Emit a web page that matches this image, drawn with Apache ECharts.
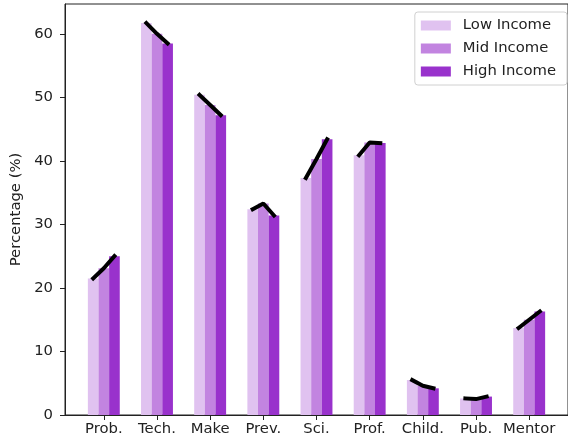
<!DOCTYPE html>
<html>
<head>
<meta charset="utf-8">
<script src="https://cdn.jsdelivr.net/npm/echarts@6/dist/echarts.min.js"></script>
<style>html,body{margin:0;padding:0;background:#fff;}#c{width:568px;height:444px;}</style>
</head>
<body>
<div id="c"></div>
<script>
const categories = ['Prob.', 'Tech.', 'Make', 'Prev.', 'Sci.', 'Prof.', 'Child.', 'Pub.', 'Mentor'];
const lowIncome  = [21.5, 61.7, 50.4, 32.4, 37.3, 40.9, 5.5, 2.6, 13.7];
const midIncome  = [23.1, 60.0, 48.8, 33.3, 40.3, 42.9, 4.6, 2.5, 15.0];
const highIncome = [25.0, 58.5, 47.2, 31.4, 43.4, 42.8, 4.2, 2.9, 16.3];
const yTicks = [0, 10, 20, 30, 40, 50, 60];
const seriesNames = ['Low Income', 'Mid Income', 'High Income'];
const seriesColors = ['#e0c2f0', '#c284e0', '#9932cc'];

const FONT = 'DejaVu Sans';
const FS = 14.8;
const groups = [lowIncome, midIncome, highIncome];
const offsets = [-0.2, 0, 0.2];
const barW = 0.2;

function barRender(params, api) {
  const x = api.value(0), v = api.value(1);
  const p0 = api.coord([x - barW / 2, v]);
  const p1 = api.coord([x + barW / 2, 0]);
  return {
    type: 'rect',
    shape: { x: p0[0], y: p0[1], width: p1[0] - p0[0], height: p1[1] - p0[1] },
    style: { fill: api.visual('color') }
  };
}

const series = [];
groups.forEach((vals, k) => {
  series.push({
    name: seriesNames[k],
    type: 'custom',
    renderItem: barRender,
    itemStyle: { color: seriesColors[k] },
    encode: { x: 0, y: 1 },
    data: vals.map((v, i) => [i + offsets[k], v]),
    z: 2
  });
});
categories.forEach((c, i) => {
  series.push({
    name: 'trend-' + c,
    type: 'line',
    symbol: 'none',
    silent: true,
    lineStyle: { color: '#000', width: 4, cap: 'square' },
    data: groups.map((vals, k) => [i + offsets[k], vals[i]]),
    z: 5
  });
});

const chart = echarts.init(document.getElementById('c'), null, { renderer: 'canvas' });
chart.setOption({
  animation: false,
  backgroundColor: '#fff',
  textStyle: { fontFamily: FONT },
  grid: { left: 65, top: 4, right: -2, bottom: 29, show: true, borderColor: '#222', borderWidth: 1, containLabel: false },
  legend: {
    data: seriesNames,
    orient: 'vertical',
    right: 1,
    top: 12,
    icon: 'rect',
    itemWidth: 30,
    itemHeight: 10,
    itemGap: 8,
    padding: [6, 11, 6, 6],
    borderColor: '#d0d0d0',
    borderWidth: 1,
    borderRadius: 3,
    backgroundColor: 'rgba(255,255,255,0.8)',
    textStyle: { fontFamily: FONT, fontSize: FS, color: '#222', padding: [0, 0, 0, 7] }
  },
  xAxis: {
    type: 'value',
    min: -0.73,
    max: 8.73,
    splitLine: { show: false },
    axisLine: { show: true, onZero: false, lineStyle: { color: '#222', width: 1 } },
    axisTick: { show: true, customValues: categories.map((c, i) => i), length: 5, lineStyle: { color: '#222' } },
    axisLabel: {
      customValues: categories.map((c, i) => i),
      formatter: v => categories[Math.round(v)],
      fontFamily: FONT, fontSize: FS, color: '#222', margin: 7
    }
  },
  yAxis: {
    type: 'value',
    min: 0,
    max: 64.7,
    name: 'Percentage (%)',
    nameLocation: 'middle',
    nameGap: 39,
    nameTextStyle: { fontFamily: FONT, fontSize: FS, color: '#222' },
    splitLine: { show: false },
    axisLine: { show: true, onZero: false, lineStyle: { color: '#222', width: 1 } },
    axisTick: { show: true, customValues: yTicks, length: 5, lineStyle: { color: '#222' } },
    axisLabel: { customValues: yTicks, fontFamily: FONT, fontSize: FS, color: '#222', margin: 12 }
  },
  series: series
});
</script>
</body>
</html>
